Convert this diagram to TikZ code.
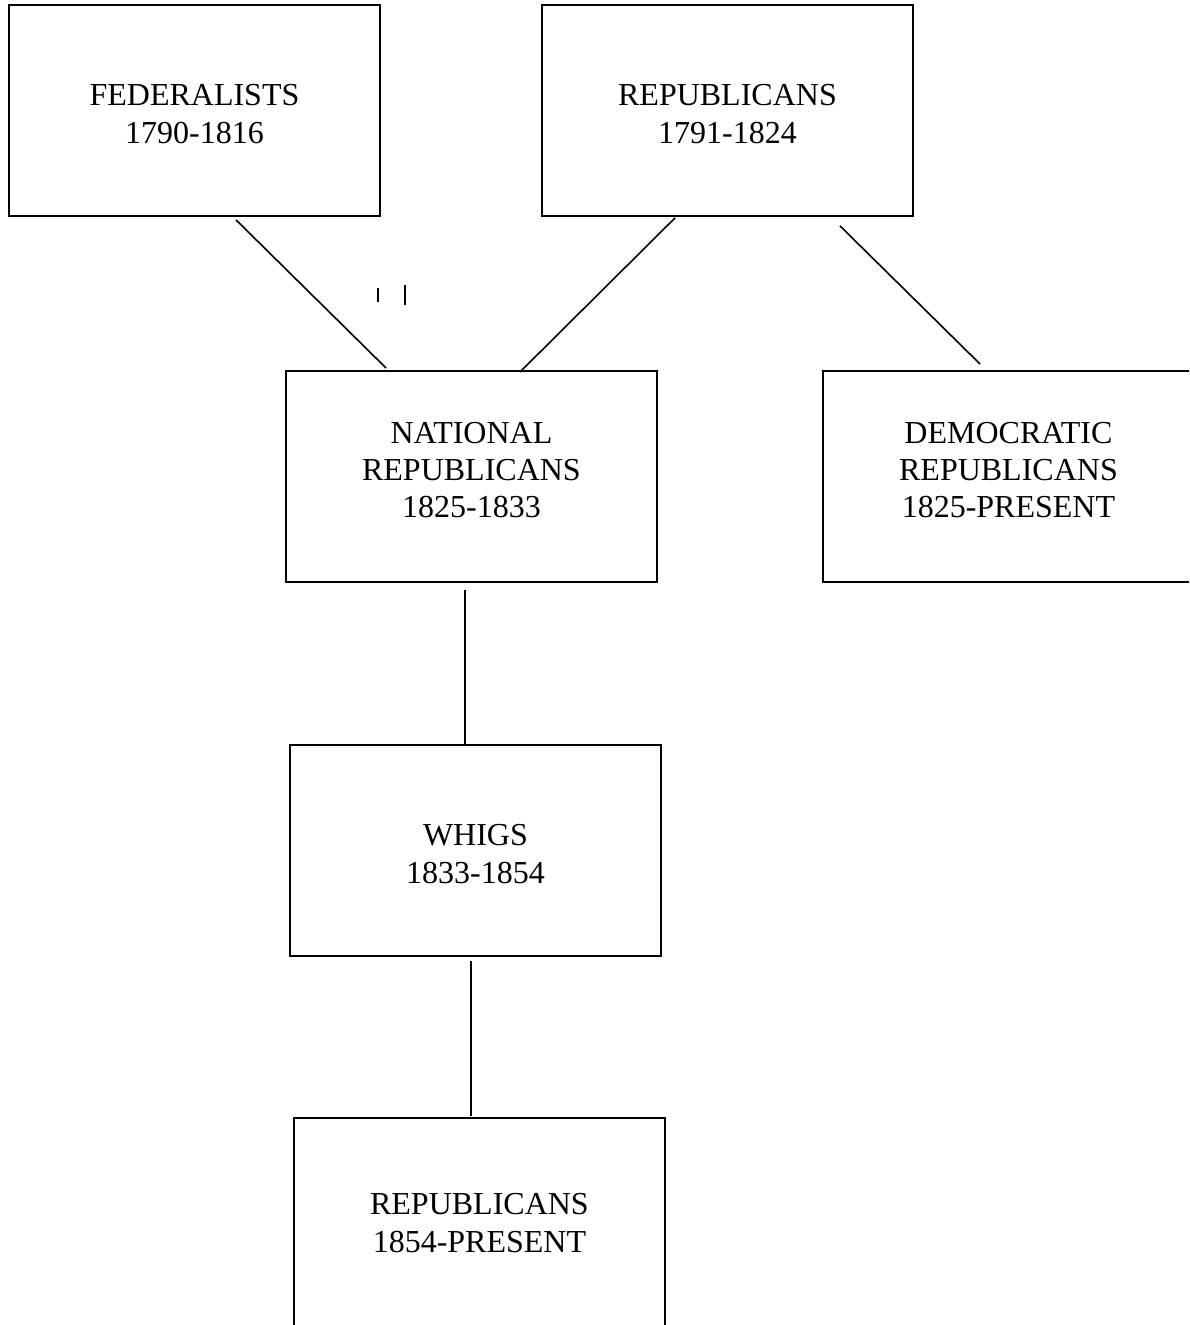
\documentclass[tikz,border=0pt]{standalone}
\usepackage{fontspec}
\setmainfont{Liberation Serif}
\begin{document}
\begin{tikzpicture}[x=1pt,y=-1pt,
  party/.style={draw=black, line width=1.9pt, minimum width=371pt, minimum height=211pt,
    inner sep=0pt, anchor=north west},
  partytext/.style={inner sep=0pt, align=center, font=\fontsize{32}{38}\selectfont},
  link/.style={line width=1.6pt},
  tick/.style={line width=1.6pt}]
\useasboundingbox (0,0) rectangle (1189,1325);
\clip (0,0) rectangle (1189,1325);
\node[party] (fed) at (8,4) {};
\node[party] (rep) at (541,4) {};
\node[party] (nat) at (285,370) {};
\node[party] (dem) at (822,370) {};
\node[party] (whig) at (289,744) {};
\node[party] (repn) at (293,1117) {};
\node[partytext] (fedt) at ([shift={(0,4)}]fed.center) {FEDERALISTS\\1790-1816};
\node[partytext] (rept) at ([shift={(0,4)}]rep.center) {REPUBLICANS\\1791-1824};
\node[partytext,font=\fontsize{32}{37}\selectfont] (natt) at ([shift={(0,-6)}]nat.center) {NATIONAL\\REPUBLICANS\\1825-1833};
\node[partytext,font=\fontsize{32}{37}\selectfont] (demt) at ([shift={(0,-6)}]dem.center) {DEMOCRATIC\\REPUBLICANS\\1825-PRESENT};
\node[partytext] (whigt) at ([shift={(0,4)}]whig.center) {WHIGS\\1833-1854};
\node[partytext] (repnt) at ([shift={(0,0)}]repn.center) {REPUBLICANS\\1854-PRESENT};
\draw[link] ([shift={(228,3)}]fed.south west) -- ([shift={(101,-2)}]nat.north west);
\draw[link] ([shift={(134,1)}]rep.south west) -- ([shift={(235,2)}]nat.north west);
\draw[link] ([shift={(299,9)}]rep.south west) -- ([shift={(158,-6)}]dem.north west);
\draw[link] ([shift={(180,7)}]nat.south west) -- ([shift={(176,0)}]whig.north west);
\draw[link] ([shift={(182,4)}]whig.south west) -- ([shift={(178,-1)}]repn.north west);
\draw[tick] (378,288) -- (378,302);
\draw[tick] (405,285) -- (405,305);
\end{tikzpicture}
\end{document}
